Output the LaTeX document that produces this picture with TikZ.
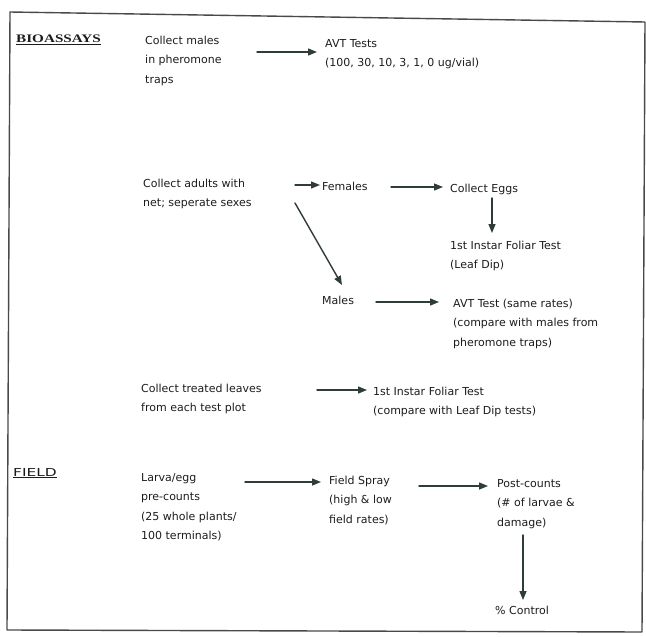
\documentclass[tikz,border=0pt]{standalone}
\usepackage{fontspec}
\setmainfont{DejaVu Sans}
\newfontfamily\headfont{Liberation Serif}
\usetikzlibrary{arrows.meta}
\definecolor{ink}{HTML}{1C1C1C}
\definecolor{arrowink}{HTML}{2E3D36}
\tikzset{
  stage/.style={anchor=north west, inner sep=0pt, align=left, text=ink,
    font=\fontsize{11}{19.5}\selectfont},
  flow/.style={->, draw=arrowink, line width=1.4pt}
}
\newcommand{\fl}{\rule{0pt}{10pt}}
\begin{document}
\begin{tikzpicture}[line join=round, line cap=round, >={Triangle[length=9pt,width=7pt]}, x=1pt, y=-1pt]
\useasboundingbox (0,0) rectangle (646,637);
\draw[draw=ink!80, line width=1.4pt] (10,12) -- (645,22) -- (642,632) -- (7,630) -- cycle;
% headings
\node[stage] (bio) at (16,32) {\fl\underline{\scalebox{1.32}[1]{\headfont\bfseries\fontsize{11.5}{14}\selectfont BIOASSAYS}}};
\node[stage] (field) at (13,466) {\fl\underline{\scalebox{1.4}[1]{FIELD}}};
% bioassays
\node[stage] (traps) at (145,34) {\fl Collect males\\in pheromone\\traps};
\node[stage] (avt) at (325,37) {\fl AVT Tests\\(100, 30, 10, 3, 1, 0 ug/vial)};
\node[stage] (adults) at (143,177) {\fl Collect adults with\\net; seperate sexes};
\node[stage] (fem) at (322,180) {\fl Females};
\node[stage] (eggs) at (450,182) {\fl Collect Eggs};
\node[stage] (dip) at (450,239) {\fl 1st Instar Foliar Test\\(Leaf Dip)};
\node[stage] (males) at (322,294) {\fl Males};
\node[stage] (avtm) at (453,297) {\fl AVT Test (same rates)\\(compare with males from\\pheromone traps)};
\node[stage] (leaves) at (141,382) {\fl Collect treated leaves\\from each test plot};
\node[stage] (foliar) at (373,385) {\fl 1st Instar Foliar Test\\(compare with Leaf Dip tests)};
% field
\node[stage] (larva) at (141,471) {\fl Larva/egg\\pre-counts\\(25 whole plants/\\100 terminals)};
\node[stage] (spray) at (329,474) {\fl Field Spray\\(high \& low\\field rates)};
\node[stage] (post) at (497,477) {\fl Post-counts\\(\# of larvae \&\\damage)};
\node[stage] (ctrl) at (495,604) {\fl \% Control};
% connectors
\draw[flow] ([shift={(112,18)}]traps.north west) -- ([shift={(-8,15)}]avt.north west);
\draw[flow] ([shift={(152,8)}]adults.north west) -- ([shift={(-2,5)}]fem.north west);
\draw[flow] ([shift={(69,7)}]fem.north west) -- ([shift={(-7,5)}]eggs.north west);
\draw[flow] ([shift={(42,16)}]eggs.north west) -- ([shift={(42,-6)}]dip.north west);
\draw[flow] ([shift={(152,26)}]adults.north west) -- ([shift={(20,-9)}]males.north west);
\draw[flow] ([shift={(54,8)}]males.north west) -- ([shift={(-14,5)}]avtm.north west);
\draw[flow] ([shift={(176,8)}]leaves.north west) -- ([shift={(-6,5)}]foliar.north west);
\draw[flow] ([shift={(104,11)}]larva.north west) -- ([shift={(-8,8)}]spray.north west);
\draw[flow] ([shift={(90,12)}]spray.north west) -- ([shift={(-9,9)}]post.north west);
\draw[flow] ([shift={(26,58)}]post.north west) -- ([shift={(28,-4)}]ctrl.north west);
\end{tikzpicture}
\end{document}
